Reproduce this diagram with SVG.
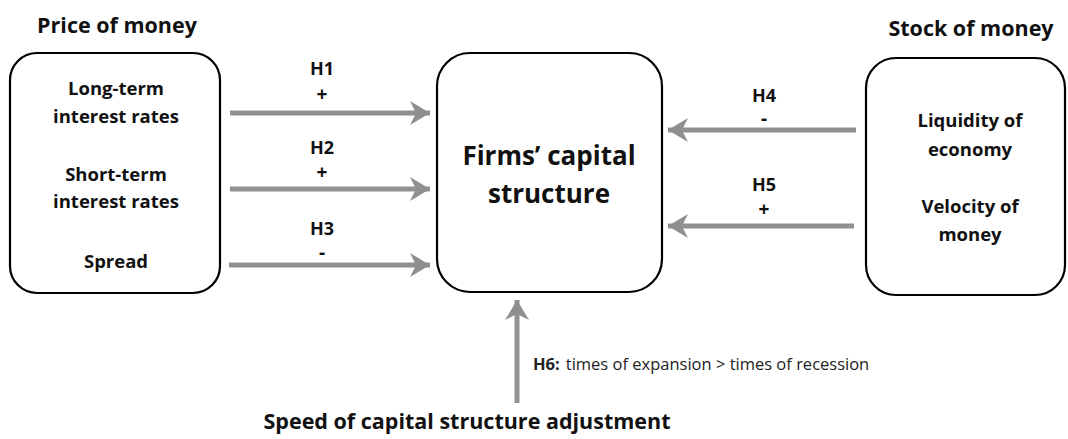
<svg xmlns="http://www.w3.org/2000/svg" width="1068" height="439" viewBox="0 0 1068 439">
<defs>
<marker id="ah" markerWidth="24" markerHeight="26" refX="20" refY="13" orient="auto" markerUnits="userSpaceOnUse">
<path d="M0,1 L20,13 L0,25 L6,13 Z" fill="#8f8f8f"/>
</marker>
<style>
.box{fill:#fff;stroke:#000;stroke-width:2.2}
.arr{stroke:#919191;stroke-width:5;fill:none;marker-end:url(#ah)}
.t{font-family:"Open Sans","Noto Sans",sans-serif;font-weight:bold;fill:#111;text-anchor:middle}
.lbl{font-size:18.5px}
.h{font-size:18px}
.sg{font-size:19px}
.hd{font-size:21.5px}
.big{font-size:26px}
.r{font-family:"Open Sans","Noto Sans",sans-serif;fill:#222;font-size:16.5px}
</style>
</defs>
<rect width="1068" height="439" fill="#fff"/>
<g id="price">
<text class="t hd" x="117" y="33">Price of money</text>
<rect class="box" x="10" y="53" width="210" height="240" rx="27"/>
<text class="t lbl" x="116" y="95">Long-term</text>
<text class="t lbl" x="116" y="123">interest rates</text>
<text class="t lbl" x="116" y="181">Short-term</text>
<text class="t lbl" x="116" y="208">interest rates</text>
<text class="t lbl" x="116" y="268">Spread</text>
</g>
<g id="firms">
<rect class="box" x="437" y="53" width="225" height="239" rx="33"/>
<text class="t big" x="549" y="165">Firms’ capital</text>
<text class="t big" x="549" y="203">structure</text>
</g>
<g id="stock">
<text class="t hd" x="971" y="36">Stock of money</text>
<rect class="box" x="866" y="58" width="199" height="237" rx="30"/>
<text class="t lbl" x="970" y="127">Liquidity of</text>
<text class="t lbl" x="970" y="156">economy</text>
<text class="t lbl" x="970" y="213">Velocity of</text>
<text class="t lbl" x="970" y="241">money</text>
</g>
<g id="speed">
<text class="t hd" x="467" y="429">Speed of capital structure adjustment</text>
</g>
<g id="connectors">
<line class="arr" x1="230" y1="113" x2="430" y2="113"/>
<line class="arr" x1="230" y1="189" x2="430" y2="189"/>
<line class="arr" x1="229" y1="265" x2="430" y2="265"/>
<line class="arr" x1="856" y1="130" x2="668" y2="130"/>
<line class="arr" x1="854" y1="226" x2="668" y2="226"/>
<line class="arr" x1="517" y1="403" x2="517" y2="300"/>
<text class="t h" x="322" y="75">H1</text>
<text class="t sg" x="322" y="101">+</text>
<text class="t h" x="322" y="154">H2</text>
<text class="t sg" x="322" y="179">+</text>
<text class="t h" x="322" y="235">H3</text>
<text class="t sg" x="322" y="259">-</text>
<text class="t h" x="764" y="102">H4</text>
<text class="t sg" x="764" y="125">-</text>
<text class="t h" x="764" y="191">H5</text>
<text class="t sg" x="764" y="216">+</text>
<text x="533" y="370" class="r"><tspan font-weight="bold">H6:</tspan><tspan dx="6">times of expansion &gt; times of recession</tspan></text>
</g>
</svg>
